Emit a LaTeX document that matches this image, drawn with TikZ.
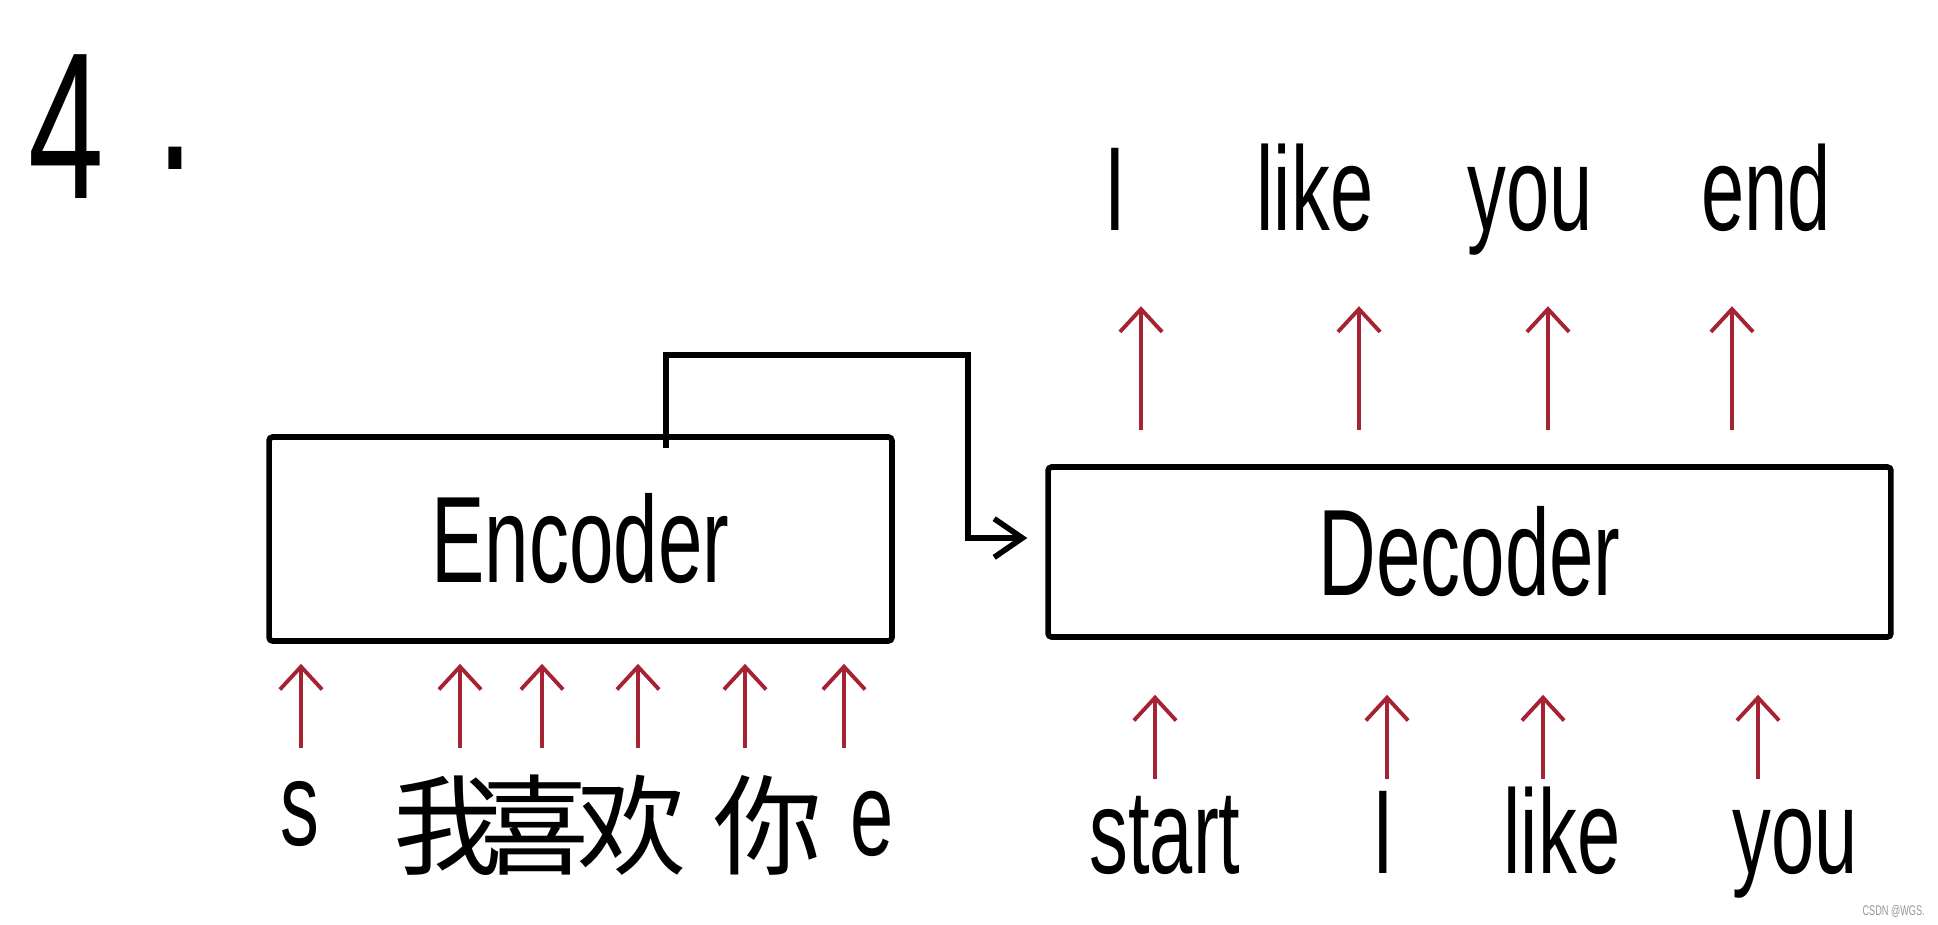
\documentclass[tikz,border=0pt]{standalone}
\usepackage{fontspec}
\usepackage{xcolor}
\usepackage{tikz}
\usetikzlibrary{arrows.meta, positioning, calc}
\newfontfamily\handfont[FakeStretch=0.65]{Liberation Sans}
\newfontfamily\cjkfont{Noto Sans CJK SC}
\definecolor{inkred}{RGB}{165,35,50}
\definecolor{inkgray}{RGB}{150,150,150}

\begin{document}
\begin{tikzpicture}[
    x=0.02cm, y=-0.02cm,
    box/.style={rectangle, draw, line width=3.2pt, rounded corners=2pt, inner sep=0pt, font=\handfont\fontsize{70}{84}\selectfont},
    word/.style={inner sep=0pt, text height=0pt, text depth=0pt, anchor=base, font=\handfont\fontsize{68}{80}\selectfont},
    hanzi/.style={word, font=\cjkfont\fontsize{62}{72}\selectfont},
    uparrow/.style={draw=inkred, line width=2.2pt, -{Straight Barb[length=13pt,width=24pt]}},
    link/.style={line width=3.2pt, -{Straight Barb[length=16pt,width=22pt]}}
]
\fill[white] (0,0) rectangle (1938,924);
\useasboundingbox (0,0) rectangle (1938,924);

% Heading
\node [inner sep=0pt, anchor=base west, font=\handfont\fontsize{119}{130}\selectfont] (num) at (28,198) {4\hspace{30pt}\raisebox{16pt}{.}};

% Encoder and decoder
\node [box, minimum width=12.46cm, minimum height=4.08cm] (enc) at (580.5,539) {Encoder};
\node [box, minimum width=16.86cm, minimum height=3.4cm] (dec) at (1469.5,552) {Decoder};

% Context passed from encoder to decoder
\coordinate (hop) at (968,355);
\draw [link] ($(enc.north)+(85.5,14)$) |- (hop) |- ($(dec.west)+(-18,-14)$);

% Encoder inputs
\node [word] (s) at (300,845) {s};
\node [hanzi] (wo) at (448,866) {我};
\node [hanzi] (xi) at (535,866) {喜};
\node [hanzi] (huan) at (632,866) {欢};
\node [hanzi] (ni) at (768,866) {你};
\node [word] (e) at (872,855) {e};
\foreach \name/\dx in {s/1, wo/12, xi/7, huan/6, ni/-23, e/-28}
    \draw [uparrow] ($(\name |- enc.south)+(\dx,104)$) -- ($(\name |- enc.south)+(\dx,20)$);

% Decoder inputs
\node [word] (start) at (1165,873) {start};
\node [word] (inI) at (1383,873) {I};
\node [word] (inlike) at (1562,873) {like};
\node [word] (inyou) at (1795,873) {you};
\foreach \name/\dx in {start/-10, inI/4, inlike/-19, inyou/-37}
    \draw [uparrow] ($(\name |- dec.south)+(\dx,139)$) -- ($(\name |- dec.south)+(\dx,55)$);

% Decoder outputs
\node [word] (outI) at (1115,230) {I};
\node [word] (outlike) at (1315,230) {like};
\node [word] (outyou) at (1530,230) {you};
\node [word] (outend) at (1766,230) {end};
\foreach \name/\dx in {outI/26, outlike/44, outyou/18, outend/-34}
    \draw [uparrow] ($(\name |- dec.north)+(\dx,-34)$) -- ($(\name |- dec.north)+(\dx,-158)$);

% Watermark
\node [inner sep=0pt, anchor=east, text=inkgray, font=\handfont\fontsize{8}{9}\selectfont] (mark) at (1925,911) {CSDN @WGS.};
\end{tikzpicture}
\end{document}
